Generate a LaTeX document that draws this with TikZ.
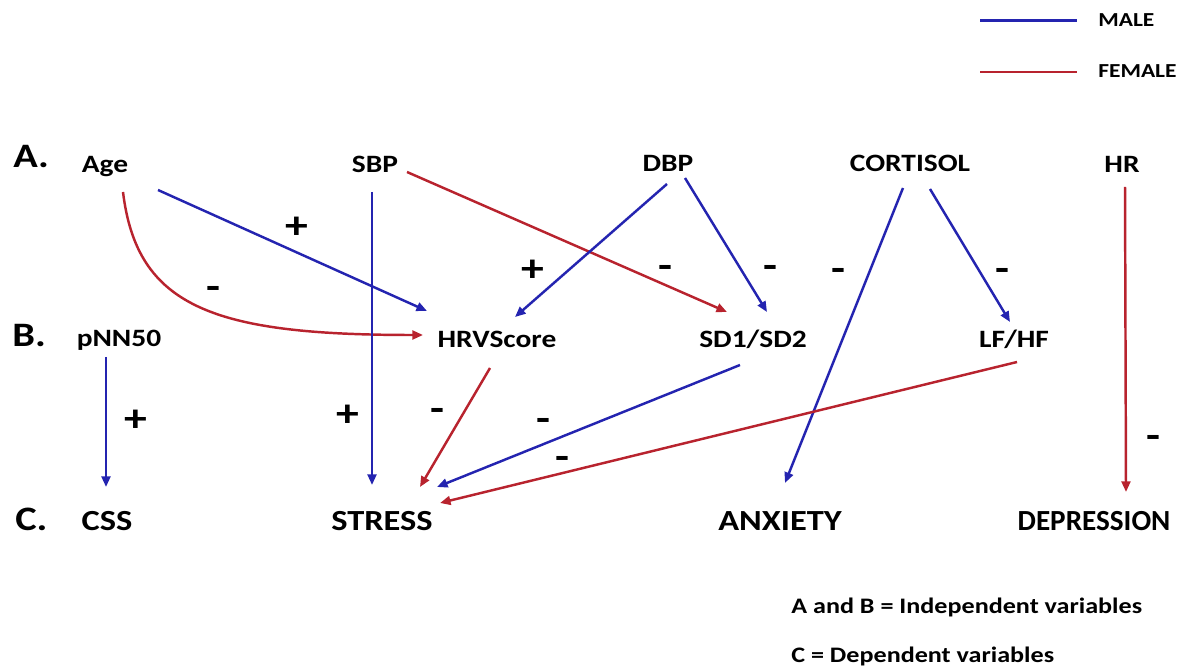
\documentclass[tikz,border=0pt]{standalone}
\usepackage{fontspec}
\setmainfont[FakeStretch=1.18]{Carlito}
\newfontfamily\narrowcarlito[FakeStretch=1.0]{Carlito}
\usepackage{xcolor}
\usepackage{tikz}
\usetikzlibrary{arrows.meta,positioning}
\definecolor{maleblue}{HTML}{2424B0}
\definecolor{femalered}{HTML}{B8232E}

\begin{document}
\begin{tikzpicture}[
  x=0.02cm, y=-0.02cm,
  rowlabel/.style={font=\fontsize{19.5}{22}\selectfont\bfseries, anchor=base west, inner sep=0pt},
  var/.style={font=\fontsize{14.2}{17}\selectfont\bfseries, anchor=base, inner sep=0pt},
  outcome/.style={font=\fontsize{16.6}{19}\selectfont\bfseries, anchor=base, inner sep=0pt},
  sign/.style={font=\fontsize{22}{24}\selectfont\bfseries, anchor=base, inner sep=0pt, yshift=-6.5pt},
  legendtxt/.style={font=\fontsize{11.3}{13}\selectfont\bfseries, anchor=base west, inner sep=0pt},
  note/.style={font=\fontsize{12.6}{15}\selectfont\bfseries, anchor=base west, inner sep=0pt},
  male/.style={-{Triangle[length=6pt,width=5pt]}, line width=1.4pt, maleblue},
  female/.style={-{Triangle[length=6pt,width=5pt]}, line width=1.4pt, femalered},
  key/.style={line width=1.7pt}
]
\useasboundingbox (0,0) rectangle (1179,668);
% legend
\node[legendtxt] (maletxt) at (1098,27) {MALE};
\node[legendtxt] (femaletxt) at (1098,78) {FEMALE};
\coordinate (malekey) at (980,21);
\coordinate (femalekey) at (980,72);
\draw[key, maleblue] (malekey) -- ++(97,0);
\draw[key, femalered] (femalekey) -- ++(97,0);
% row A
\node[rowlabel] (rowA) at (13,168) {A.};
\node[var] (age) at (105,173) {Age};
\node[var] (sbp) at (375,173) {SBP};
\node[var] (dbp) at (668,172) {DBP};
\node[var] (cortisol) at (910,172) {CORTISOL};
\node[var] (hr) at (1122,173) {HR};
% row B
\node[rowlabel] (rowB) at (12,347) {B.};
\node[var] (pnn) at (119,347) {pNN50};
\node[var] (hrv) at (497,348) {HRVScore};
\node[var] (sdratio) at (753,348) {SD1/SD2};
\node[var] (lfhf) at (1014,348) {LF/HF};
% row C
\node[rowlabel] (rowC) at (15,530) {C.};
\node[outcome] (css) at (107,530) {CSS};
\node[outcome] (stress) at (382,530) {STRESS};
\node[outcome] (anxiety) at (780,530) {ANXIETY};
\node[outcome, font=\fontsize{16.6}{19}\narrowcarlito\bfseries] (depression) at (1094,530) {DEPRESSION};
% A -> B
\draw[male] ([shift={(53,17)}]age.base) -- ([shift={(-70,-37)}]hrv.base);
\draw[female] ([shift={(18,19)}]age.base) .. controls +(14,115) and +(-210,0) .. ([shift={(-74,-13)}]hrv.base);
\draw[female] ([shift={(32,-1)}]sbp.base) -- ([shift={(-26,-36)}]sdratio.base);
\draw[male] ([shift={(-1,12)}]dbp.base) -- ([shift={(18,-31)}]hrv.base);
\draw[male] ([shift={(17,6)}]dbp.base) -- ([shift={(14,-36)}]sdratio.base);
\draw[male] ([shift={(20,17)}]cortisol.base) -- ([shift={(-4,-26)}]lfhf.base);
% A -> C
\draw[male] ([shift={(-3,19)}]sbp.base) -- ([shift={(-10,-45)}]stress.base);
\draw[male] ([shift={(-7,16)}]cortisol.base) -- ([shift={(5,-47)}]anxiety.base);
\draw[female] ([shift={(3,14)}]hr.base) -- ([shift={(32,-38)}]depression.base);
% B -> C
\draw[male] ([shift={(-13,10)}]pnn.base) -- ([shift={(-1,-43)}]css.base);
\draw[female] ([shift={(-7,20)}]hrv.base) -- ([shift={(38,-43)}]stress.base);
\draw[male] ([shift={(-13,17)}]sdratio.base) -- ([shift={(55,-43)}]stress.base);
\draw[female] ([shift={(3,14)}]lfhf.base) -- ([shift={(58,-27)}]stress.base);
% signs
\node[sign] (s1) at (297,227) {+};
\node[sign] (s2) at (213,288) {-};
\node[sign] (s3) at (533,270) {+};
\node[sign] (s4) at (665,267) {-};
\node[sign] (s5) at (770,267) {-};
\node[sign] (s6) at (838,270) {-};
\node[sign] (s7) at (1002,270) {-};
\node[sign] (s8) at (136,420) {+};
\node[sign] (s9) at (348,415) {+};
\node[sign] (s10) at (437,410) {-};
\node[sign] (s11) at (543,420) {-};
\node[sign] (s12) at (562,458) {-};
\node[sign] (s13) at (1153,437) {-};
% notes
\node[note] (indep) at (791,613) {A and B = Independent variables};
\node[note] (dep) at (791,662) {C = Dependent variables};
\end{tikzpicture}
\end{document}
